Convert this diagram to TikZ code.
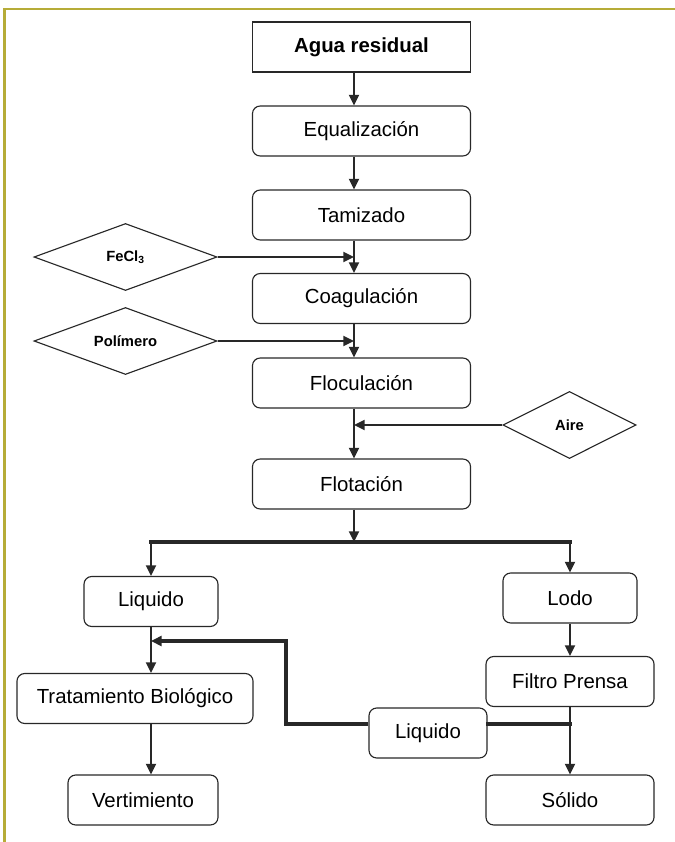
\documentclass[tikz,border=0pt]{standalone}
\usepackage{fontspec}
\setmainfont{Liberation Sans}
\usetikzlibrary{arrows.meta,shapes.geometric}
\definecolor{frameolive}{RGB}{182,172,56}
\definecolor{boxline}{RGB}{40,40,40}

\begin{document}
\begin{tikzpicture}[x=0.025cm, y=-0.025cm, font=\fontsize{14.5}{17}\selectfont, stage/.style={rectangle, rounded corners=5.5pt, draw=boxline, line width=0.8pt, fill=white, minimum height=1.25cm, inner sep=0pt}, reagent/.style={diamond, draw=boxline, line width=0.8pt, fill=white, inner sep=0pt, shape aspect=2.7, minimum height=1.675cm, font=\fontsize{10.5}{12}\selectfont\bfseries}, arrow/.style={-{Triangle[length=7.5pt, width=7pt]}, line width=1.6pt, draw=boxline}, trunk/.style={line width=2.5pt, line cap=rect, draw=boxline}, backflow/.style={-{Triangle[length=7.5pt, width=7pt]}, line width=2.5pt, draw=boxline}]
\useasboundingbox (0,0) rectangle (675,842);
\draw[frameolive, line width=1.6pt] (4.5,842) -- (4.5,9) -- (675,9);
\coordinate (axis) at (354,0);
\node[stage, sharp corners, minimum width=5.45cm, font=\fontsize{14.5}{17}\selectfont\bfseries] (agua) at (361.5,47) {Agua residual};
\node[stage, minimum width=5.45cm] (equal) at (361.5,131) {Equalización};
\node[stage, minimum width=5.45cm] (tamiz) at (361.5,215) {Tamizado};
\node[stage, minimum width=5.45cm] (coag) at (361.5,298.5) {Coagulación};
\node[stage, minimum width=5.45cm] (floc) at (361.5,383) {Floculación};
\node[stage, minimum width=5.45cm] (flot) at (361.5,484) {Flotación};
\node[reagent, minimum width=4.575cm] (fecl) at (125.5,257) {FeCl\textsubscript{3}};
\node[reagent, minimum width=4.575cm] (polim) at (125.5,341) {Polímero};
\node[reagent, minimum width=3.325cm, shape aspect=2] (aire) at (569.5,425) {Aire};
\draw[arrow] (agua.south -| axis) -- (equal.north -| axis); \draw[arrow] (equal.south -| axis) -- (tamiz.north -| axis);
\draw[arrow] (tamiz.south -| axis) -- (coag.north -| axis); \draw[arrow] (fecl.east) -- (fecl.east -| axis);
\draw[arrow] (coag.south -| axis) -- (floc.north -| axis); \draw[arrow] (polim.east) -- (polim.east -| axis);
\draw[arrow] (floc.south -| axis) -- (flot.north -| axis); \draw[arrow] (aire.west) -- (aire.west -| axis);
\coordinate (split) at (354,542);
\coordinate (press) at (570,724);
\coordinate (bend) at (286,641);
\node[stage, minimum width=3.35cm] (liq) at (151,601.5) {Liquido};
\node[stage, minimum width=3.35cm] (lodo) at (570,598) {Lodo};
\node[stage, minimum width=5.9cm] (trat) at (135,698.5) {Tratamiento Biológico};
\node[stage, minimum width=4.2cm] (filtro) at (570,681.5) {Filtro Prensa};
\node[stage, minimum width=2.95cm] (midliq) at (428,733) {Liquido};
\node[stage, minimum width=3.75cm] (vert) at (143,800) {Vertimiento};
\node[stage, minimum width=4.2cm] (solido) at (570,800) {Sólido};
\draw[arrow] (flot.south -| axis) -- (split);
\draw[trunk] (split -| liq.north) -- (split -| lodo.north);
\draw[arrow] (split -| liq.north) -- (liq.north); \draw[arrow] (split -| lodo.north) -- (lodo.north);
\draw[arrow] (lodo.south) -- (filtro.north); \draw[arrow] (filtro.south) -- (solido.north);
\draw[trunk] (press) -- (press -| midliq.east);
\draw[backflow] (press -| midliq.west) -| (bend) -- (bend -| liq.south);
\draw[arrow] (liq.south) -- (liq.south |- trat.north); \draw[arrow] (trat.south -| liq.south) -- (liq.south |- vert.north);
\end{tikzpicture}
\end{document}
